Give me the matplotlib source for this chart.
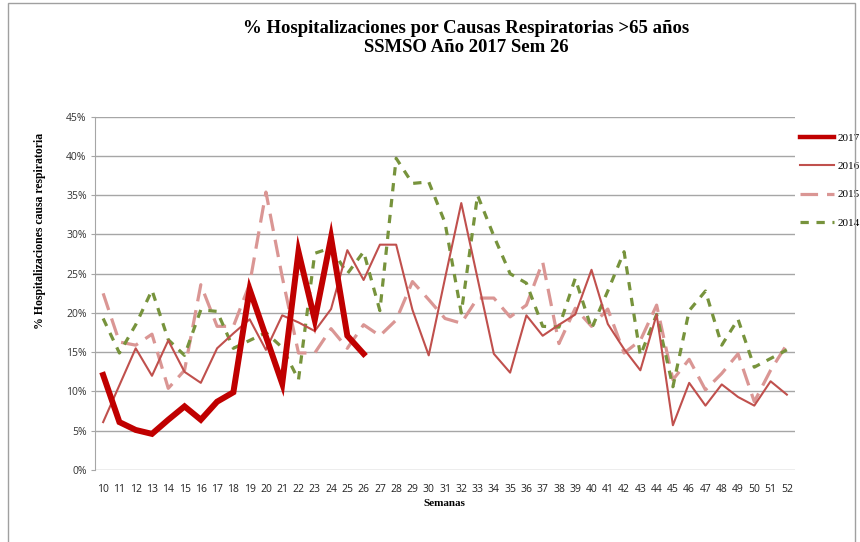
import matplotlib
matplotlib.use("Agg")
import matplotlib.pyplot as plt
from matplotlib.patches import Rectangle

# semanas epidemiologicas
semanas = list(range(10, 53))
etiquetas = [str(s) for s in semanas]

# % hospitalizaciones por causa respiratoria
serie_2017 = [12.1, 6.1, 5.1, 4.6, 6.4, 8.1, 6.4, 8.7, 9.9, 23.0, 17.0, 11.0,
              27.8, 19.1, 29.6, 17.1, 14.8]
serie_2016 = [6.1, 10.8, 15.5, 12.0, 16.5, 12.5, 11.1, 15.5, 17.4, 19.2, 15.3,
              19.7, 18.8, 17.7, 20.5, 28.0, 24.2, 28.7, 28.7, 20.4, 14.6, 24.4,
              34.0, 24.4, 14.8, 12.4, 19.7, 17.1, 18.5, 19.8, 25.5, 18.6, 15.4,
              12.7, 19.8, 5.7, 11.1, 8.2, 10.9, 9.3, 8.2, 11.3, 9.6]
serie_2015 = [22.5, 16.3, 15.9, 17.3, 10.4, 12.7, 23.6, 18.3, 18.3, 23.7, 35.4,
              24.6, 14.9, 14.9, 18.0, 15.5, 18.5, 17.1, 19.1, 24.0, 21.7, 19.3,
              18.7, 21.9, 21.9, 19.5, 21.0, 26.5, 16.1, 20.6, 18.3, 20.5, 14.9,
              16.5, 21.0, 11.5, 14.1, 10.2, 12.3, 14.8, 8.7, 12.7, 16.0]
serie_2014 = [19.3, 14.9, 18.5, 22.9, 16.6, 14.6, 20.4, 20.2, 15.5, 16.5, 17.5,
              15.6, 11.5, 27.6, 28.3, 25.0, 27.8, 20.3, 39.7, 36.5, 36.7, 31.5,
              20.0, 35.0, 29.8, 25.0, 23.8, 18.3, 18.2, 24.4, 18.0, 22.8, 27.8,
              14.6, 19.8, 10.6, 20.3, 22.8, 15.9, 19.2, 13.1, 14.2, 15.3]

W, H = 860, 542
fig = plt.figure(figsize=(W / 100, H / 100), dpi=100)

# borde del area del grafico
fig.patches.append(Rectangle((8 / W, -0.02), (855 - 8) / W, 1.02 - 3 / H,
                             transform=fig.transFigure, fill=False,
                             edgecolor="#A0A0A0", linewidth=1))

ax = fig.add_axes([95 / W, (H - 470) / H, 700 / W, 353.3 / H])

ax.plot(semanas[:len(serie_2017)], serie_2017, color="#C00000", lw=4.3,
        solid_joinstyle="miter", label="2017", zorder=5)
ax.plot(semanas, serie_2016, color="#C0504D", lw=1.5, label="2016", zorder=4)
ax.plot(semanas, serie_2015, color="#DA9694", lw=2.3, dashes=(5.5, 2.8),
        label="2015", zorder=3)
ax.plot(semanas, serie_2014, color="#77933C", lw=2.3, dashes=(2.6, 2.4),
        label="2014", zorder=3)

ax.set_xlim(9.5, 52.5)
ax.set_ylim(0, 45)
ax.set_yticks(range(0, 46, 5))
ax.set_yticklabels([f"{v}%" for v in range(0, 46, 5)])
ax.set_xticks(semanas)
ax.set_xticklabels(etiquetas)
ax.grid(axis="y", color="#A6A6A6", lw=1)
ax.set_axisbelow(True)
for s in ["top", "right", "bottom"]:
    ax.spines[s].set_visible(False)
ax.spines["left"].set_color("#A6A6A6")
ax.tick_params(axis="y", length=3, color="#A6A6A6", labelsize=7.5,
               labelcolor="#333333", pad=3)
ax.tick_params(axis="x", length=0, labelsize=7.5, labelcolor="#222222", pad=10)
for t in ax.get_xticklabels() + ax.get_yticklabels():
    t.set_fontfamily("Open Sans")

fig.text(466 / W, 1 - 38 / H,
         "% Hospitalizaciones por Causas Respiratorias >65 años\nSSMSO Año 2017 Sem 26",
         ha="center", va="center", fontsize=13.5, fontweight="bold",
         family="Liberation Serif", linespacing=1.12)
fig.text(40 / W, 1 - 231 / H, "% Hospitalizaciones causa respiratoria",
         rotation=90, ha="center", va="center", fontsize=8.5,
         fontweight="bold", family="Liberation Serif")
fig.text(444 / W, 1 - 503 / H, "Semanas", ha="center", va="center",
         fontsize=8, fontweight="bold", family="Liberation Serif")

leg = ax.legend(loc="upper left", bbox_to_anchor=(796 / W, 1 - 129 / H),
                bbox_transform=fig.transFigure, frameon=False, handlelength=3.0,
                handletextpad=0.35, labelspacing=1.65, borderaxespad=0,
                prop={"family": "Liberation Serif", "size": 8})
leg.get_lines()[0].set_linewidth(3.2)

fig.savefig("out.png", dpi=100)
